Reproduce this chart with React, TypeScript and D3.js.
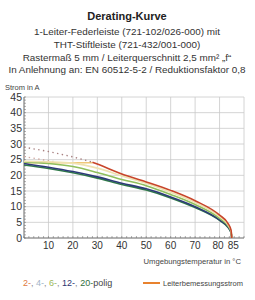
import React from 'react';
import * as d3 from 'd3';

const titleLines = [
  '1-Leiter-Federleiste (721-102/026-000) mit',
  'THT-Stiftleiste (721-432/001-000)',
  'Rastermaß 5 mm / Leiterquerschnitt 2,5 mm² „f“',
  'In Anlehnung an: EN 60512-5-2 / Reduktionsfaktor 0,8',
];
const xTicks = [10, 20, 30, 40, 50, 60, 70, 80, 85];
const yTicks = [0, 5, 10, 15, 20, 25, 30, 35, 40, 45];
const xGrid = [10, 20, 30, 40, 50, 60, 70, 80, 90];

// [temperature, current]
const red2: [number, number][] = [[28, 24.2], [30, 23.6], [40, 20.4], [50, 17.9], [60, 15.2], [70, 11.9], [80, 7.3], [83.5, 4.6], [84.7, 2.5], [85, 0]];
const red2Dotted: [number, number][] = [[0, 29], [10, 27.6], [20, 25.9], [28, 24.2]];
const pinkDotted: [number, number][] = [[0, 26], [12, 24.4]];
const rated: [number, number][] = [[0, 24], [28, 24]];
const cream4: [number, number][] = [[0, 24.5], [10, 24.3], [20, 23.9], [30, 22.3], [40, 19.8], [50, 17.5], [60, 14.6], [70, 11.3], [80, 6.8], [83.5, 4.2], [84.7, 2.2], [85, 0]];
const green6: [number, number][] = [[0, 24.3], [10, 23.8], [20, 22.8], [30, 20.9], [40, 18.7], [50, 16.7], [60, 13.9], [70, 10.7], [80, 6.3], [83.5, 3.8], [84.7, 2], [85, 0]];
const navy12: [number, number][] = [[0, 23.8], [10, 22.6], [20, 21.2], [30, 19.5], [40, 17.5], [50, 15.7], [60, 13.1], [70, 10], [80, 5.8], [83.5, 3.5], [84.7, 1.8], [85, 0]];
const green20: [number, number][] = [[0, 23.3], [10, 22.2], [20, 20.8], [30, 19.1], [40, 17.1], [50, 15.3], [60, 12.8], [70, 9.7], [80, 5.6], [83.5, 3.3], [84.7, 1.7], [85, 0]];

const legendParts = [
  { t: '2-', c: '#e07840' },
  { t: ', ', c: '#888' },
  { t: '4-', c: '#9fb4c8' },
  { t: ', ', c: '#888' },
  { t: '6-', c: '#9cb85a' },
  { t: ', ', c: '#888' },
  { t: '12-', c: '#2d3570' },
  { t: ', ', c: '#888' },
  { t: '20-', c: '#2f7040' },
  { t: 'polig', c: '#444' },
];

const left = 24;
const right = 244;
const top = 97;
const bottom = 238;

export default function App() {
  const x = d3.scaleLinear().domain([0, 90]).range([left, right]);
  const y = d3.scaleLinear().domain([0, 45]).range([bottom, top]);
  const line = d3.line<[number, number]>().x(d => x(d[0])).y(d => y(d[1])).curve(d3.curveMonotoneX);
  const lineStraight = d3.line<[number, number]>().x(d => x(d[0])).y(d => y(d[1]));
  const minorY = d3.range(0, 45.01, 1);
  const minorX = d3.range(0, 90.01, 2);
  const font = 'Liberation Sans, Arial, sans-serif';
  const narrow = 'Liberation Sans Narrow, Liberation Sans, sans-serif';
  // nudge the two crowded labels at the right end apart
  const tickDx = (v: number) => (v === 80 ? -1.5 : v === 85 ? 1.5 : 0);

  return (
    <svg width={255} height={300} style={{ position: 'absolute', left: 0, top: 0 }} fontFamily={font}>
      <text x={127} y={20} textAnchor="middle" fontSize={11} fontWeight="bold" fill="#222">Derating-Kurve</text>
      {titleLines.map((t, i) => (
        <text key={i} x={127} y={35 + i * 12.8} textAnchor="middle" fontSize={9.9} fill="#333">{t}</text>
      ))}
      <text x={5} y={90} fontSize={7.5} fill="#444">Strom in A</text>

      {/* grid */}
      {yTicks.filter(v => v > 0).map(v => (
        <line key={'gy' + v} x1={left} x2={right} y1={y(v)} y2={y(v)} stroke="#c9c9c9" strokeWidth={0.8} />
      ))}
      {xGrid.map(v => (
        <line key={'gx' + v} x1={x(v)} x2={x(v)} y1={top} y2={bottom} stroke="#c9c9c9" strokeWidth={0.8} />
      ))}

      {/* axes */}
      <line x1={left} x2={left} y1={top} y2={bottom} stroke="#666" strokeWidth={1} />
      <line x1={left} x2={right} y1={bottom} y2={bottom} stroke="#666" strokeWidth={1} />
      {minorY.map(v => (
        <line key={'my' + v} x1={left} x2={left + 2} y1={y(v)} y2={y(v)} stroke="#777" strokeWidth={0.6} />
      ))}
      {minorX.map(v => (
        <line key={'mx' + v} x1={x(v)} x2={x(v)} y1={bottom} y2={bottom - 2} stroke="#777" strokeWidth={0.6} />
      ))}
      {yTicks.map(v => (
        <text key={'ty' + v} x={left - 2} y={y(v) + 3.7} textAnchor="end" fontSize={10.5} fill="#333" fontFamily={narrow}>{v}</text>
      ))}
      {xTicks.map(v => (
        <text key={'tx' + v} x={x(v)} dx={tickDx(v)} y={bottom + 10.5} textAnchor="middle" fontSize={10} fill="#333" fontFamily={narrow}>{v}</text>
      ))}

      {/* curves */}
      <path d={lineStraight(rated) || ''} fill="none" stroke="#f0c878" strokeWidth={1.4} />
      <path d={lineStraight(red2Dotted) || ''} fill="none" stroke="#a88080" strokeWidth={1.4} strokeDasharray="1.4,3.4" />
      <path d={lineStraight(pinkDotted) || ''} fill="none" stroke="#d0a8a0" strokeWidth={1.4} strokeDasharray="1.4,3.4" />
      <path d={line(green20) || ''} fill="none" stroke="#2f7a48" strokeWidth={1.6} />
      <path d={line(navy12) || ''} fill="none" stroke="#2d3a78" strokeWidth={1.6} />
      <path d={line(green6) || ''} fill="none" stroke="#8fbf5c" strokeWidth={1.6} />
      <path d={line(cream4) || ''} fill="none" stroke="#efe2b0" strokeWidth={1.6} />
      <path d={line(red2) || ''} fill="none" stroke="#c8452a" strokeWidth={1.6} />

      <text x={241} y={264} textAnchor="end" fontSize={7.7} fill="#444">Umgebungstemperatur in °C</text>

      {/* legend */}
      <text x={23} y={286} fontSize={9} fill="#444">
        {legendParts.map((p, i) => (
          <tspan key={i} fill={p.c}>{p.t}</tspan>
        ))}
      </text>
      <line x1={143} x2={160} y1={283} y2={283} stroke="#e8822e" strokeWidth={2} />
      <text x={163} y={286} fontSize={7.5} fill="#444">Leiterbemessungsstrom</text>
    </svg>
  );
}
